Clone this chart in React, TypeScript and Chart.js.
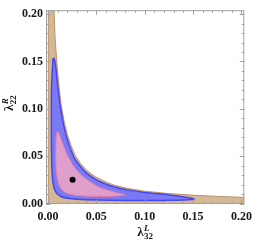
import React, { useEffect, useRef } from 'react';
import { Chart, registerables } from 'chart.js';

Chart.register(...registerables);

const MAJOR_TICKS = [0, 0.05, 0.1, 0.15, 0.2];
const TICK_LABELS = ['0.00', '0.05', '0.10', '0.15', '0.20'];
const MINOR_TICKS = [0.01, 0.02, 0.03, 0.04, 0.06, 0.07, 0.08, 0.09, 0.11, 0.12, 0.13, 0.14, 0.16, 0.17, 0.18, 0.19];

// outer (tan) allowed region, traced from the origin
const TAN_REGION: [number, number][] = [
  [0.0004, 0], [0.0004, 0.206], [0.0062, 0.206], [0.0074, 0.175], [0.009, 0.152], [0.011, 0.128],
  [0.0135, 0.105], [0.0165, 0.088], [0.02, 0.073], [0.024, 0.061], [0.028, 0.051],
  [0.034, 0.042], [0.04, 0.035], [0.048, 0.029], [0.057, 0.024], [0.068, 0.0195],
  [0.082, 0.016], [0.1, 0.013], [0.125, 0.0105], [0.15, 0.0088], [0.175, 0.0075],
  [0.206, 0.0064], [0.206, 0], [0.0004, 0],
];

// middle (blue) region
const BLUE_REGION: [number, number][] = [
  [0.0052, 0.153], [0.0038, 0.125], [0.0035, 0.09], [0.0036, 0.06], [0.0042, 0.035],
  [0.0058, 0.019], [0.0085, 0.0115], [0.013, 0.0077], [0.02, 0.0056], [0.03, 0.0046],
  [0.05, 0.0038], [0.08, 0.0033], [0.12, 0.0033], [0.151, 0.0045],
  [0.14, 0.0072], [0.125, 0.0091], [0.1, 0.0117], [0.082, 0.0144], [0.068, 0.0177],
  [0.057, 0.0217], [0.048, 0.0264], [0.04, 0.0321], [0.034, 0.0386], [0.028, 0.0468],
  [0.024, 0.0558], [0.02, 0.0675], [0.0165, 0.0815], [0.0135, 0.098], [0.011, 0.116],
  [0.0092, 0.133], [0.0076, 0.148], [0.0062, 0.1532], [0.0052, 0.153],
];

// inner (pink) region
const PINK_REGION: [number, number][] = [
  [0.0095, 0.076], [0.0085, 0.07], [0.008, 0.055], [0.0082, 0.04], [0.009, 0.03],
  [0.011, 0.021], [0.014, 0.015], [0.019, 0.011], [0.027, 0.0088], [0.04, 0.0078],
  [0.055, 0.0075], [0.068, 0.0078], [0.08, 0.009],
  [0.072, 0.0112], [0.062, 0.014], [0.052, 0.0178], [0.044, 0.0228], [0.038, 0.0272],
  [0.032, 0.0328], [0.027, 0.039], [0.023, 0.0458], [0.019, 0.0538], [0.0155, 0.0628],
  [0.0125, 0.071], [0.0105, 0.0758], [0.0095, 0.076],
];

const BEST_FIT: [number, number][] = [[0.0255, 0.025]];

const toPts = (arr: [number, number][]) => arr.map(([x, y]) => ({ x, y }));

const framePlugin = {
  id: 'mmaFrame',
  afterDatasetsDraw(chart: any) {
    const { ctx, chartArea: a, scales } = chart;
    const xs = scales.x;
    const ys = scales.y;
    ctx.save();
    ctx.strokeStyle = '#a0a0a0';
    ctx.lineWidth = 1;
    ctx.strokeRect(a.left + 0.5, a.top + 0.5, a.right - a.left - 1, a.bottom - a.top - 1);
    const seg = (x1: number, y1: number, x2: number, y2: number) => {
      ctx.beginPath();
      ctx.moveTo(x1, y1);
      ctx.lineTo(x2, y2);
      ctx.stroke();
    };
    const mark = (v: number, len: number) => {
      const px = Math.round(xs.getPixelForValue(v)) + 0.5;
      seg(px, a.bottom, px, a.bottom - len);
      seg(px, a.top, px, a.top + len);
      const py = Math.round(ys.getPixelForValue(v)) + 0.5;
      seg(a.left, py, a.left + len, py);
      seg(a.right, py, a.right - len, py);
    };
    MAJOR_TICKS.forEach((v) => mark(v, 4.5));
    MINOR_TICKS.forEach((v) => mark(v, 2.5));
    ctx.restore();
  },
};

const SERIF = "'Liberation Serif', 'Times New Roman', serif";

const titlePlugin = {
  id: 'mmaTitles',
  afterDraw(chart: any) {
    const { ctx, chartArea: a } = chart;
    const drawLabel = (sup: string, sub: string) => {
      ctx.font = `bold 13px ${SERIF}`;
      const w1 = ctx.measureText('λ').width;
      ctx.font = `italic bold 9px ${SERIF}`;
      const wSup = ctx.measureText(sup).width;
      ctx.font = `bold 9px ${SERIF}`;
      const wSub = ctx.measureText(sub).width;
      const total = w1 + Math.max(wSup, wSub) + 0.5;
      const x0 = -total / 2;
      ctx.textBaseline = 'alphabetic';
      ctx.textAlign = 'left';
      ctx.font = `bold 13px ${SERIF}`;
      ctx.fillText('λ', x0, 0);
      ctx.font = `italic bold 9px ${SERIF}`;
      ctx.fillText(sup, x0 + w1 + 0.5, -5.5);
      ctx.font = `bold 9px ${SERIF}`;
      ctx.fillText(sub, x0 + w1 + 0.5, 3);
    };
    ctx.save();
    ctx.fillStyle = '#1a1a1a';
    ctx.save();
    ctx.translate((a.left + a.right) / 2, 236);
    drawLabel('L', '32');
    ctx.restore();
    ctx.save();
    ctx.translate(13, (a.top + a.bottom) / 2 - 4);
    ctx.rotate(-Math.PI / 2);
    drawLabel('R', '22');
    ctx.restore();
    ctx.restore();
  },
};

const tickFont = { family: SERIF, size: 12, weight: 'bold' as const };

export default function App() {
  const ref = useRef<HTMLCanvasElement | null>(null);
  useEffect(() => {
    document.body.style.margin = '0';
    const canvas = ref.current;
    if (!canvas) return;
    const chart = new Chart(canvas, {
      type: 'line',
      data: {
        datasets: [
          {
            label: 'best fit',
            data: toPts(BEST_FIT),
            showLine: false,
            pointRadius: 3,
            pointBackgroundColor: '#000',
            pointBorderWidth: 0,
          },
          {
            label: 'pink',
            data: toPts(PINK_REGION),
            fill: 'shape',
            backgroundColor: 'rgb(222,160,202)',
            borderColor: 'rgb(232,120,165)',
            borderWidth: 1,
            pointRadius: 0,
            tension: 0.3,
          },
          {
            label: 'blue',
            data: toPts(BLUE_REGION),
            fill: 'shape',
            backgroundColor: 'rgb(122,122,244)',
            borderColor: 'rgb(70,70,240)',
            borderWidth: 1.5,
            pointRadius: 0,
            tension: 0.3,
          },
          {
            label: 'tan',
            data: toPts(TAN_REGION),
            fill: 'shape',
            backgroundColor: 'rgb(212,184,150)',
            borderColor: 'rgb(185,145,105)',
            borderWidth: 1,
            pointRadius: 0,
            tension: 0,
          },
        ],
      },
      options: {
        animation: false,
        responsive: false,
        layout: { padding: { top: 3, right: 8, left: 0, bottom: 0 } },
        plugins: { legend: { display: false }, tooltip: { enabled: false } },
        scales: {
          x: {
            type: 'linear',
            min: -0.002,
            max: 0.203,
            afterBuildTicks: (s: any) => {
              s.ticks = MAJOR_TICKS.map((v) => ({ value: v }));
            },
            afterFit: (s: any) => {
              s.height = 41;
            },
            ticks: {
              callback: (v: any) => TICK_LABELS[MAJOR_TICKS.findIndex((m) => Math.abs(m - v) < 1e-9)] ?? '',
              font: tickFont,
              color: '#1a1a1a',
              padding: 6,
              maxRotation: 0,
              autoSkip: false,
            },
            grid: { display: false, drawTicks: false },
            border: { display: false },
          },
          y: {
            type: 'linear',
            min: -0.0005,
            max: 0.2041,
            afterBuildTicks: (s: any) => {
              s.ticks = MAJOR_TICKS.map((v) => ({ value: v }));
            },
            afterFit: (s: any) => {
              s.width = 46;
            },
            ticks: {
              callback: (v: any) => TICK_LABELS[MAJOR_TICKS.findIndex((m) => Math.abs(m - v) < 1e-9)] ?? '',
              font: tickFont,
              color: '#1a1a1a',
              padding: 3,
              autoSkip: false,
            },
            grid: { display: false, drawTicks: false },
            border: { display: false },
          },
        },
      },
      plugins: [framePlugin, titlePlugin],
    } as any);
    return () => chart.destroy();
  }, []);
  return <canvas ref={ref} width={258} height={245} style={{ display: 'block' }} />;
}
